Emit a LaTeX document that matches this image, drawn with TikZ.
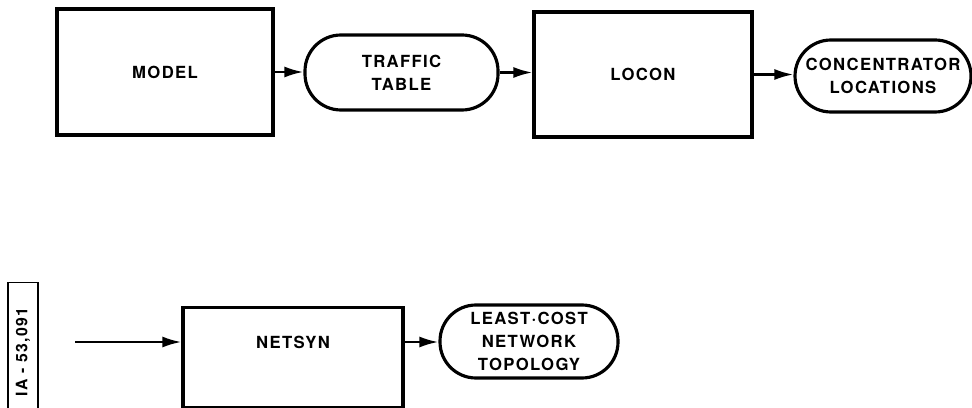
\documentclass[tikz,border=0pt]{standalone}
\usepackage{fontspec}
\setmainfont{TeX Gyre Heros}[LetterSpace=8]
\usetikzlibrary{arrows.meta}

\tikzset{
  prog/.style={draw,line width=1.8pt,minimum width=#1,inner sep=0pt},
  pill/.style={draw,line width=1.8pt,rounded corners=0.72cm,align=center,inner sep=0pt},
  flow/.style={line width=1.4pt,-{Latex[length=0.38cm,width=0.22cm]}}
}

\begin{document}
\begin{tikzpicture}[x=0.02cm,y=-0.02cm,font=\fontsize{9.5}{13}\selectfont\bfseries]
\path[use as bounding box] (0,0) rectangle (972,408);
\begin{scope}
\clip (0,0) rectangle (972,408);
% top row
\node[prog=216*0.02cm,minimum height=126*0.02cm] (model) at (165,72) {MODEL};
\node[pill,minimum width=193*0.02cm,minimum height=75*0.02cm] (traffic) at (401.5,72.5) {TRAFFIC\\TABLE};
\node[prog=218*0.02cm,minimum height=125*0.02cm] (locon) at (643,74.5) {LOCON};
\node[pill,minimum width=176*0.02cm,minimum height=72*0.02cm] (conc) at (883,76) {CONCENTRATOR\\LOCATIONS};
\draw[flow] (model.east) -- (model.east -| traffic.west);
\draw[flow] (traffic.east) -- (traffic.east -| locon.west);
\draw[flow] (locon.east) -- (locon.east -| conc.west);
% bottom row
\node[prog=220*0.02cm,minimum height=100*0.02cm,anchor=north] (netsyn) at (293,306) {};
\coordinate (nettext) at (293,342);
\node at (nettext) {NETSYN};
\node[pill,minimum width=178*0.02cm,minimum height=73*0.02cm] (least) at (529,341.5) {LEAST·COST\\NETWORK\\TOPOLOGY};
\coordinate (feed) at (75,342);
\draw[flow] (feed) -- (feed -| netsyn.west);
\draw[flow] (nettext -| netsyn.east) -- (nettext -| least.west);
% side tag
\node[draw,line width=0.7pt,minimum width=30*0.02cm,minimum height=140*0.02cm,anchor=north,inner sep=0pt] (tag) at (23,282) {};
\node[rotate=90,font=\fontsize{9}{10}\selectfont\bfseries] (tagtext) at (23,352) {IA - 53,091};
\end{scope}
\end{tikzpicture}
\end{document}
